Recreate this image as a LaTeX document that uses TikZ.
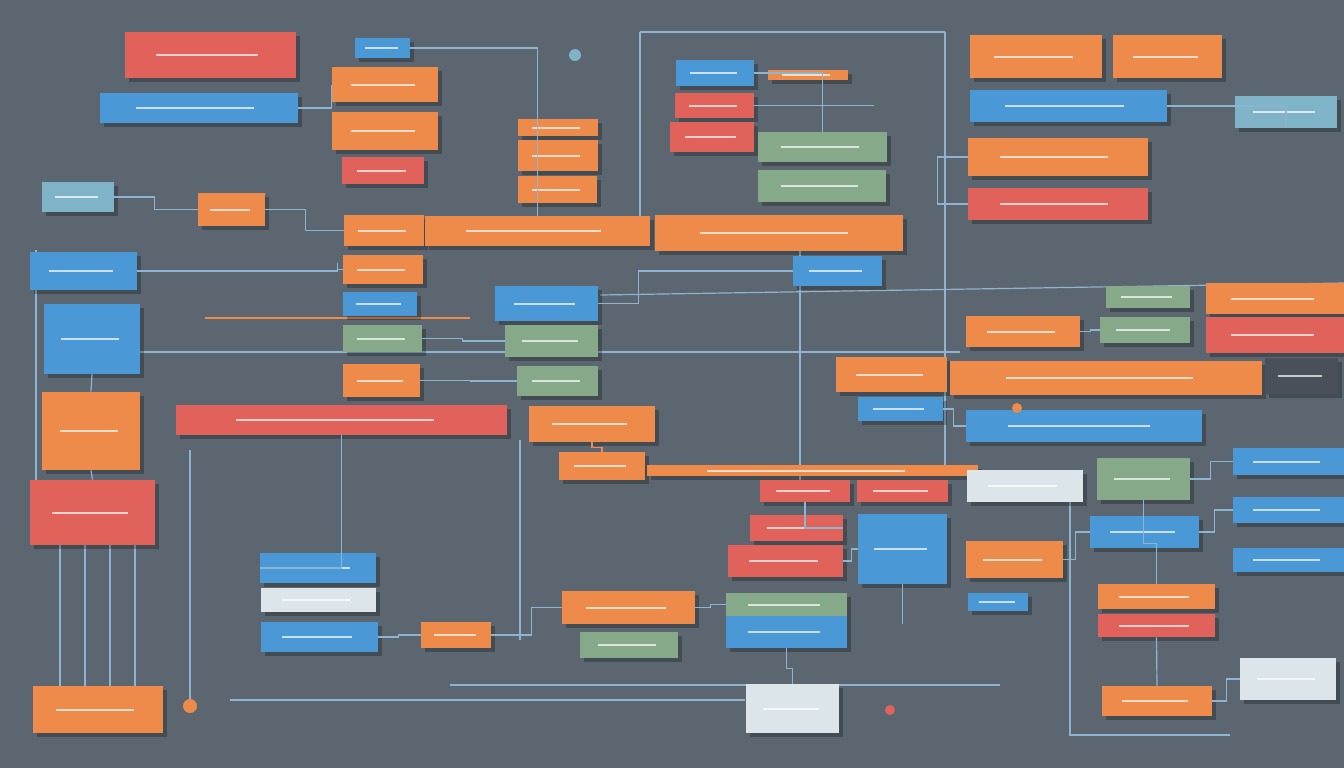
\documentclass[tikz,border=0pt]{standalone}
\usetikzlibrary{calc,shadows}
\definecolor{bg}{HTML}{5B6670}
\definecolor{org}{HTML}{EE8A4A}
\definecolor{rd}{HTML}{E0625A}
\definecolor{blu}{HTML}{4A98D6}
\definecolor{grn}{HTML}{86A98A}
\definecolor{lgt}{HTML}{DCE5EA}
\definecolor{tea}{HTML}{7FB3C8}
\definecolor{drk}{HTML}{4A5058}
\definecolor{wire}{HTML}{8DB4D0}
\tikzset{
  box/.style = {draw=none, rectangle, inner sep=0pt,
    drop shadow={shadow xshift=2pt, shadow yshift=-2pt, fill=black, opacity=.25},
    path picture={\draw[white, opacity=.7, line width=1pt]
      ($(path picture bounding box.west)!.18!(path picture bounding box.east)$) --
      ($(path picture bounding box.west)!.78!(path picture bounding box.east)$);}},
  wire/.style = {draw=wire, line width=.6pt},
  owire/.style = {draw=org, line width=.8pt}
}
% box: name, x1, y1, x2, y2, colour (reference pixels)
\newcommand\bx[6]{\node[box, fill=#6, minimum width={(#4-#2)*0.5pt},
  minimum height={(#5-#3)*0.5pt}] (#1) at ({(#2+#4)/2},{(#3+#5)/2}) {};}
\begin{document}
\begin{tikzpicture}[x=0.5pt, y=-0.5pt]
  \fill[bg] (0,0) rectangle (1344,768);
  \useasboundingbox (0,0) rectangle (1344,768);

  % connectors first, boxes on top
  \coordinate (t1) at (640,32);
  \coordinate (t2) at (945,32);
  \draw[wire] (t1) -- (t2);
  \draw[wire] (t1) -- (640,246);
  \draw[wire] (t2) -- (945,470);
  \draw[wire] (36,250) -- (36,545);
  \draw[wire] (190,450) -- (190,700);
  \draw[wire] (520,440) -- (520,640);
  \draw[wire] (800,250) -- (800,480);
  \draw[wire] (1070,500) -- (1070,735) -- (1230,735);
  \draw[wire] (60,545) -- (60,686);
  \draw[wire] (85,545) -- (85,686);
  \draw[wire] (110,545) -- (110,686);
  \draw[wire] (135,545) -- (135,686);
  \draw[wire] (600,295) -- (1344,283);
  \draw[wire] (140,352) -- (960,352);
  \draw[owire] (205,318) -- (470,318);
  \draw[wire] (230,700) -- (745,700);
  \draw[wire] (450,685) -- (1000,685);

  \bx{n1}{125}{32}{296}{78}{rd}
  \bx{n2}{100}{93}{298}{123}{blu}
  \bx{n3}{355}{38}{410}{58}{blu}
  \bx{n4}{332}{67}{438}{102}{org}
  \bx{n5}{332}{112}{438}{150}{org}
  \bx{n6}{342}{157}{424}{184}{rd}
  \bx{n7}{42}{182}{114}{212}{tea}
  \bx{n8}{198}{193}{265}{226}{org}
  \bx{n9}{344}{215}{424}{246}{org}
  \bx{n10}{425}{216}{650}{246}{org}
  \bx{n11}{655}{215}{903}{251}{org}
  \bx{n12}{343}{255}{423}{284}{org}
  \bx{n13}{30}{252}{137}{290}{blu}
  \bx{n14}{44}{304}{140}{374}{blu}
  \bx{n15}{343}{292}{417}{316}{blu}
  \bx{n16}{343}{325}{422}{352}{grn}
  \bx{n17}{343}{364}{420}{397}{org}
  \bx{n18}{42}{392}{140}{470}{org}
  \bx{n19}{176}{405}{507}{435}{rd}
  \bx{n20}{30}{480}{155}{545}{rd}
  \bx{n21}{518}{119}{598}{136}{org}
  \bx{n22}{518}{140}{598}{171}{org}
  \bx{n23}{518}{176}{597}{203}{org}
  \bx{n24}{495}{286}{598}{321}{blu}
  \bx{n25}{505}{325}{598}{357}{grn}
  \bx{n26}{517}{366}{598}{396}{grn}
  \bx{n27}{529}{406}{655}{442}{org}
  \bx{n28}{676}{60}{754}{86}{blu}
  \bx{n29}{675}{93}{754}{118}{rd}
  \bx{n30}{670}{122}{754}{152}{rd}
  \bx{n31}{758}{132}{887}{162}{grn}
  \bx{n32}{758}{170}{886}{202}{grn}
  \bx{n33}{793}{256}{882}{286}{blu}
  \bx{n34}{768}{70}{848}{80}{org}
  \bx{n35}{970}{35}{1102}{78}{org}
  \bx{n36}{1113}{35}{1222}{78}{org}
  \bx{n37}{970}{90}{1167}{122}{blu}
  \bx{n38}{1235}{96}{1337}{128}{tea}
  \bx{n39}{968}{138}{1148}{176}{org}
  \bx{n40}{968}{188}{1148}{220}{rd}
  \bx{n41}{1206}{283}{1344}{314}{org}
  \bx{n42}{1106}{286}{1190}{308}{grn}
  \bx{n43}{1100}{317}{1190}{343}{grn}
  \bx{n44}{1206}{317}{1344}{353}{rd}
  \bx{n45}{966}{316}{1080}{347}{org}
  \bx{n46}{836}{357}{947}{392}{org}
  \bx{n47}{950}{361}{1262}{395}{org}
  \bx{n48}{1265}{358}{1338}{394}{drk}
  \bx{n49}{858}{397}{943}{421}{blu}
  \bx{n50}{966}{410}{1202}{442}{blu}
  \bx{n51}{559}{452}{645}{480}{org}
  \bx{n52}{647}{465}{978}{476}{org}
  \bx{n53}{760}{480}{850}{502}{rd}
  \bx{n54}{857}{480}{948}{502}{rd}
  \bx{n55}{967}{470}{1083}{502}{lgt}
  \bx{n56}{1097}{458}{1190}{500}{grn}
  \bx{n57}{1233}{448}{1344}{475}{blu}
  \bx{n58}{1233}{497}{1344}{523}{blu}
  \bx{n59}{1233}{548}{1344}{572}{blu}
  \bx{n60}{750}{515}{843}{541}{rd}
  \bx{n61}{728}{545}{843}{577}{rd}
  \bx{n62}{858}{514}{947}{584}{blu}
  \bx{n63}{1090}{516}{1199}{548}{blu}
  \bx{n64}{966}{541}{1063}{578}{org}
  \bx{n65}{260}{553}{376}{583}{blu}
  \bx{n66}{261}{588}{376}{612}{lgt}
  \bx{n67}{261}{622}{378}{652}{blu}
  \bx{n68}{562}{591}{695}{624}{org}
  \bx{n69}{726}{593}{847}{616}{grn}
  \bx{n70}{726}{616}{847}{648}{blu}
  \bx{n71}{421}{622}{491}{648}{org}
  \bx{n72}{580}{632}{678}{658}{grn}
  \bx{n73}{968}{593}{1028}{611}{blu}
  \bx{n74}{1098}{584}{1215}{609}{org}
  \bx{n75}{1098}{614}{1215}{637}{rd}
  \bx{n76}{33}{686}{163}{733}{org}
  \bx{n77}{746}{684}{839}{733}{lgt}
  \bx{n78}{1240}{658}{1336}{700}{lgt}
  \bx{n79}{1102}{686}{1212}{716}{org}

  % node to node links
  \draw[wire] (n7.east) -- ++(40,0) |- (n8.west);
  \draw[wire] (n8.east) -- ++(40,0) |- (n9.west);
  \draw[wire] (n2.east) -| (n4.west);
  \draw[wire] (n3.east) -| (n10.north);
  \draw[wire] (n13.east) -- ++(0,0) -| ++(200,-8) |- (n12.west);
  \draw[wire] (n16.east) -- ++(40,0) |- (n25.west);
  \draw[wire] (n17.east) -- ++(50,0) |- (n26.west);
  \draw[wire] (n24.east) -- ++(40,0) |- (n33.west);
  \draw[wire] (n28.east) -| (n31.north);
  \draw[wire] (n29.east) -- ++(120,0);
  \draw[wire] (n37.east) -| (n38.south);
  \draw[wire] (n39.west) -- ++(-30,0) |- (n40.west);
  \draw[wire] (n45.east) -- ++(10,0) |- (n43.west);
  \draw[wire] (n65.west) -| (n19.south);
  \draw[wire] (n67.east) -- ++(20,0) |- (n71.west);
  \draw[wire] (n71.east) -- ++(40,0) |- (n68.west);
  \draw[wire] (n68.east) -- ++(15,0) |- (n69.west);
  \draw[wire] (n70.south) -- ++(0,20) -| (n77.north);
  \draw[wire] (n62.south) -- ++(0,40);
  \draw[wire] (n61.east) -- ++(8,0) |- (n62.west);
  \draw[wire] (n64.east) -- ++(12,0) |- (n63.west);
  \draw[wire] (n56.east) -- ++(20,0) |- (n57.west);
  \draw[wire] (n63.east) -- ++(15,0) |- (n58.west);
  \draw[wire] (n74.north) -- ++(0,-40) -| (n56.south);
  \draw[wire] (n75.south) -- (n79.north);
  \draw[wire] (n79.east) -- ++(14,0) |- (n78.west);
  \draw[wire] (n49.east) -- ++(10,0) |- (n50.west);
  \draw[wire] (n53.south) |- (n60.east);
  \draw[owire] (n27.south) -- ++(0,5) -| (n51.north);
  \draw[wire] (n14.south) -- (n18.north);
  \draw[wire] (n20.north) -- (n18.south);
  \fill[org] (190,706) circle (7);
  \fill[rd] (890,710) circle (5);
  \fill[tea] (575,55) circle (6);
  \fill[org] (1017,408) circle (5);
\end{tikzpicture}
\end{document}
